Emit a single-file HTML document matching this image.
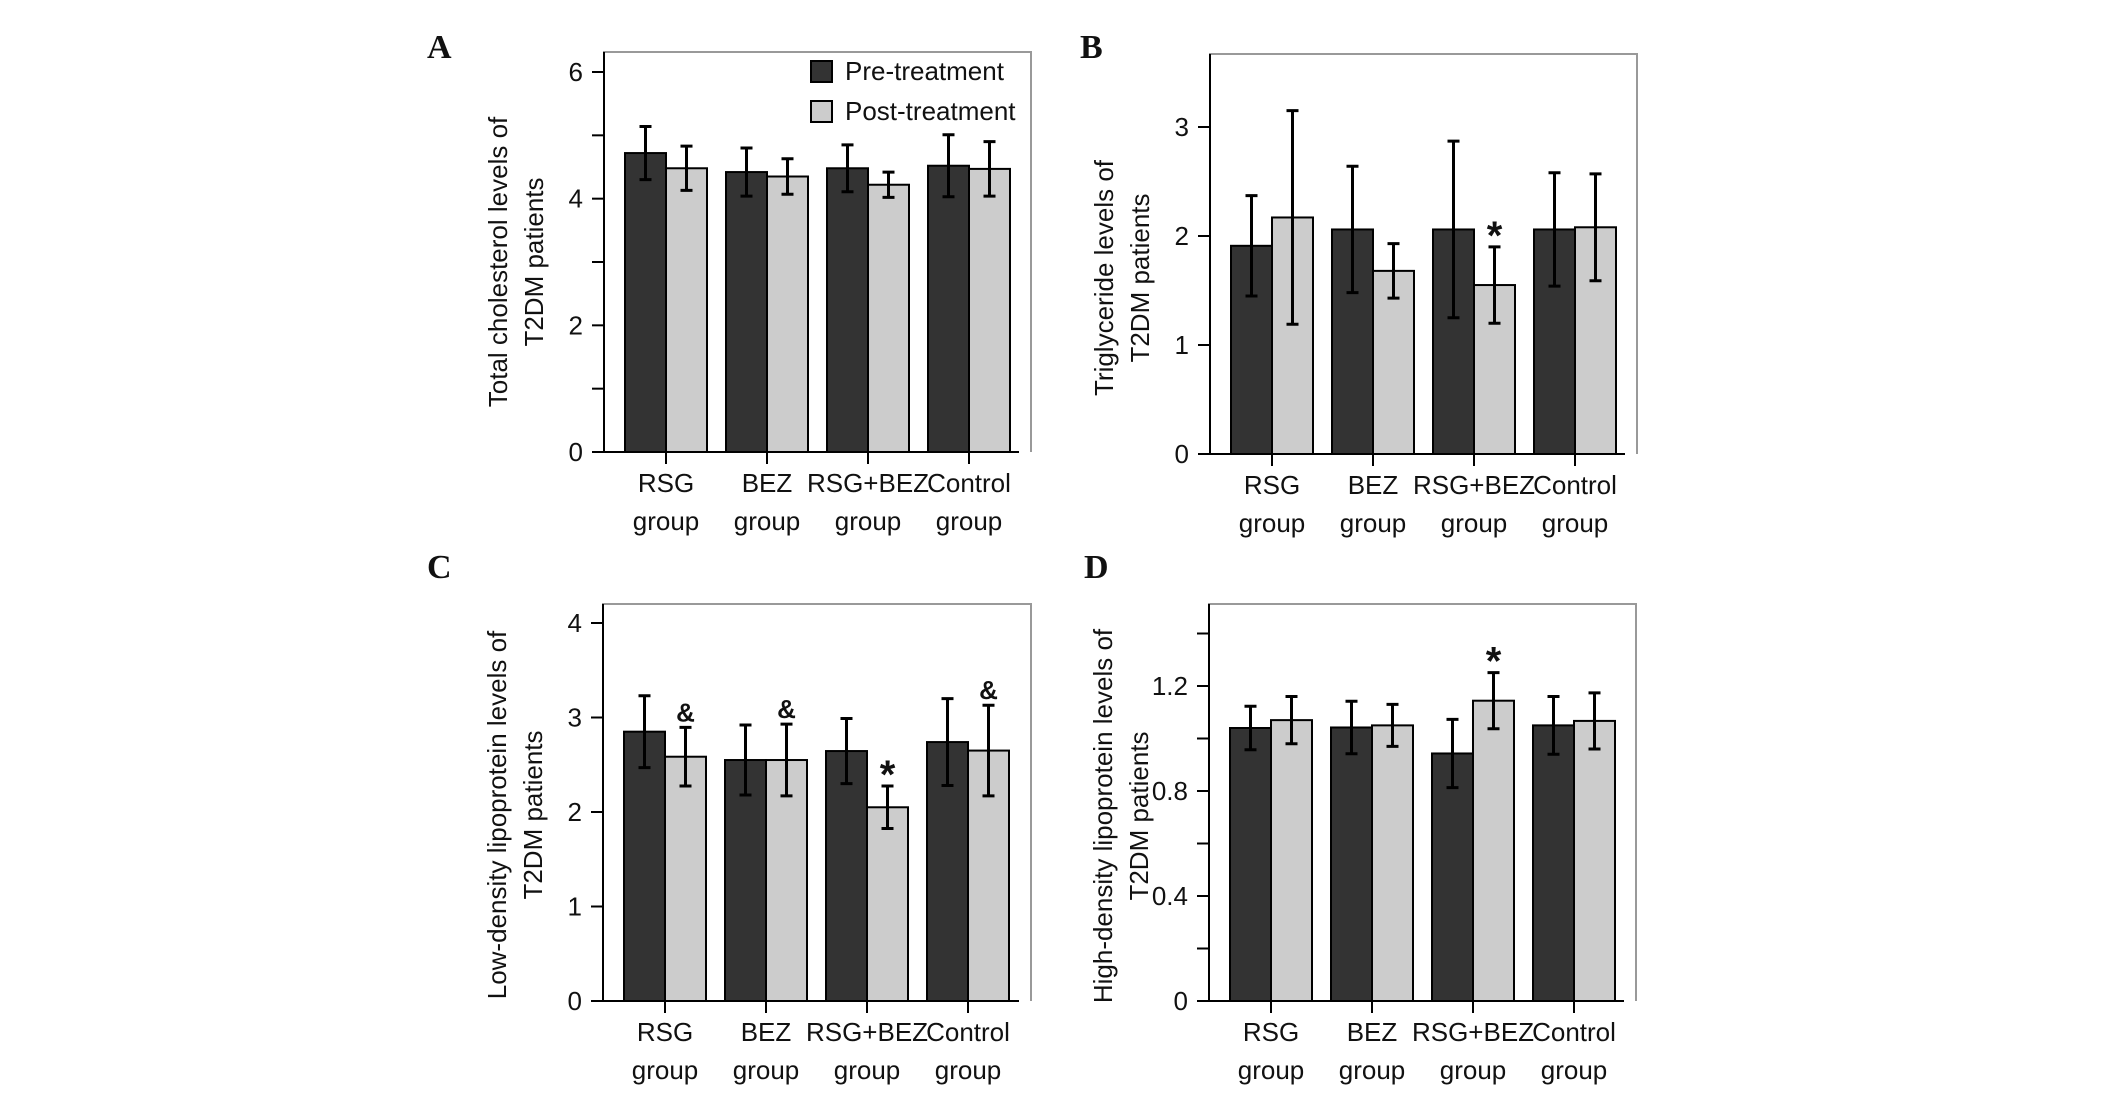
<!DOCTYPE html>
<html><head><meta charset="utf-8"><style>
html,body{margin:0;padding:0;background:#fff;}
svg{display:block;}
text{font-family:"Liberation Sans",Arial,sans-serif;fill:#111;}
.lbl{font-family:"Liberation Serif",serif;font-weight:bold;font-size:34px;}
</style></head><body>
<svg id="fig" width="2126" height="1115" viewBox="0 0 2126 1115" xmlns="http://www.w3.org/2000/svg"></svg>
<script>
const categories = ["RSG", "BEZ", "RSG+BEZ", "Control"];
const seriesNames = ["Pre-treatment", "Post-treatment"];
// Panel A: total cholesterol
const aPre = [4.72, 4.42, 4.48, 4.52];
const aPreErr = [0.42, 0.38, 0.37, 0.49];
const aPost = [4.48, 4.35, 4.22, 4.47];
const aPostErr = [0.35, 0.28, 0.2, 0.43];
const aTicks = [0, 2, 4, 6];
const aMinor = [1, 3, 5];
// Panel B: triglyceride
const bPre = [1.91, 2.06, 2.06, 2.06];
const bPreErr = [0.46, 0.58, 0.81, 0.52];
const bPost = [2.17, 1.68, 1.55, 2.08];
const bPostErr = [0.98, 0.25, 0.35, 0.49];
const bTicks = [0, 1, 2, 3];
// Panel C: LDL
const cPre = [2.85, 2.55, 2.645, 2.74];
const cPreErr = [0.38, 0.37, 0.345, 0.46];
const cPost = [2.585, 2.55, 2.05, 2.65];
const cPostErr = [0.31, 0.38, 0.225, 0.48];
const cTicks = [0, 1, 2, 3, 4];
// Panel D: HDL
const dPre = [1.04, 1.042, 0.943, 1.05];
const dPreErr = [0.083, 0.1, 0.13, 0.11];
const dPost = [1.07, 1.05, 1.144, 1.067];
const dPostErr = [0.09, 0.08, 0.107, 0.107];
const dTicks = [0, 0.4, 0.8, 1.2];
const dMinor = [0.2, 0.6, 1.0, 1.4];

const NS = "http://www.w3.org/2000/svg";
const svg = document.getElementById("fig");
function mk(tag, attrs, parent) {
  const e = document.createElementNS(NS, tag);
  for (const k in attrs) e.setAttribute(k, attrs[k]);
  (parent || svg).appendChild(e);
  return e;
}
function fmt(v){ return (Math.abs(v - Math.round(v)) < 1e-9) ? String(Math.round(v)) : String(v); }

function panel(cfg) {
  const g = mk("g", {});
  
  
  const L = cfg.left, R = cfg.right, T = cfg.top, B = cfg.bottom;
  const y = v => B - (v - 0) / cfg.ymax * (B - cfg.y1);
  const xc = k => L + 62 + k * 101;
  const fr = mk("path", {d:`M${L},${B} L${L},${T} L${R},${T} L${R},${B}`, fill:"none", stroke:"#999", "stroke-width":2}, g);
  
  
  for (let k = 0; k < categories.length; k++) {
    const c = xc(k);
    const vals = [[cfg.pre[k], cfg.preErr[k], "#333333", -41], [cfg.post[k], cfg.postErr[k], "#cccccc", 0]];
    vals.forEach((v, s) => {
      const r = mk("rect", {x:c + v[3], y:y(v[0]), width:41, height:B - y(v[0]), fill:v[2], stroke:"#000", "stroke-width":2}, g);
      
      
      const ex = c + v[3] + 20.5;
      const eb = mk("path", {d:`M${ex},${y(v[0]+v[1])} L${ex},${y(v[0]-v[1])} M${ex-6},${y(v[0]+v[1])} L${ex+6},${y(v[0]+v[1])} M${ex-6},${y(v[0]-v[1])} L${ex+6},${y(v[0]-v[1])}`, stroke:"#000", "stroke-width":3, fill:"none"}, g);
      
      
    });
    if (cfg.marks && cfg.marks[k]) {
      const m = cfg.marks[k];
      const ex = c + 20.5;
      const top = y(cfg.post[k] + cfg.postErr[k]);
      const t = mk("text", {x:ex, y: m === "*" ? top + 2 : top - 6, "text-anchor":"middle", "font-size": m === "*" ? 40 : 26, "font-weight":"bold"}, g);
      t.textContent = m;
      
      
    }
    mk("line", {x1:c, y1:B, x2:c, y2:B + 12, stroke:"#000", "stroke-width":2}, g);
    const t1 = mk("text", {x:c, y:B + 40, "text-anchor":"middle", "font-size":26}, g);
    t1.textContent = categories[k];
    
    
    const t2 = mk("text", {x:c, y:B + 78, "text-anchor":"middle", "font-size":26}, g);
    t2.textContent = "group";
    
    
  }
  const ax = mk("line", {x1:L, y1:T, x2:L, y2:B, stroke:"#000", "stroke-width":2}, g);
  
  
  const bx = mk("line", {x1:L - 12, y1:B, x2:R - 12, y2:B, stroke:"#000", "stroke-width":2}, g);
  
  
  cfg.ticks.forEach(v => {
    mk("line", {x1:L - 12, y1:y(v), x2:L, y2:y(v), stroke:"#000", "stroke-width":2}, g);
    const t = mk("text", {x:L - 21, y:y(v) + 9, "text-anchor":"end", "font-size":26}, g);
    t.textContent = fmt(v);
    
    
  });
  (cfg.minor || []).forEach(v => {
    mk("line", {x1:L - 12, y1:y(v), x2:L, y2:y(v), stroke:"#000", "stroke-width":2}, g);
  });
  const cy = cfg.titleCy;
  const ty = mk("text", {transform:`translate(${L - 97},${cy}) rotate(-90)`, "text-anchor":"middle", "font-size":26}, g);
  
  
  const s1 = mk("tspan", {x:0, y:0}, ty); s1.textContent = cfg.title1;
  const s2 = mk("tspan", {x:0, y:36}, ty); s2.textContent = "T2DM patients";
  const pl = mk("text", {x:cfg.lx, y:cfg.ly, "class":"lbl"}, g);
  pl.textContent = cfg.letter;
  
  
}

panel({name:"panel-a-total-cholesterol", letter:"A", lx:427, ly:58, left:604, right:1031, top:52, bottom:452, y1:72, ymax:6,
  pre:aPre, preErr:aPreErr, post:aPost, postErr:aPostErr, ticks:aTicks, minor:aMinor, title1:"Total cholesterol levels of", titleCy:262});
panel({name:"panel-b-triglyceride", letter:"B", lx:1080, ly:58, left:1210, right:1637, top:54, bottom:454, y1:127, ymax:3,
  pre:bPre, preErr:bPreErr, post:bPost, postErr:bPostErr, ticks:bTicks, title1:"Triglyceride levels of", marks:[null,null,"*",null], titleCy:278});
panel({name:"panel-c-ldl", letter:"C", lx:427, ly:578, left:603, right:1031, top:604, bottom:1001, y1:623, ymax:4,
  pre:cPre, preErr:cPreErr, post:cPost, postErr:cPostErr, ticks:cTicks, title1:"Low-density lipoprotein levels of", marks:["&","&","*","&"], titleCy:815});
panel({name:"panel-d-hdl", letter:"D", lx:1084, ly:578, left:1209, right:1636, top:604, bottom:1001, y1:686, ymax:1.2,
  pre:dPre, preErr:dPreErr, post:dPost, postErr:dPostErr, ticks:dTicks, minor:dMinor, title1:"High-density lipoprotein levels of", marks:[null,null,"*",null], titleCy:816});

const lg = mk("g", {});


const legendColors = ["#333333", "#cccccc"];
seriesNames.forEach((n, i) => {
  const yy = 61 + i * 40;
  const r = mk("rect", {x:811, y:yy, width:21, height:21, fill:legendColors[i], stroke:"#000", "stroke-width":2}, lg);
  
  
  const t = mk("text", {x:845, y:yy + 19, "font-size":26}, lg);
  t.textContent = n;
  
  
});
</script>
</body></html>
